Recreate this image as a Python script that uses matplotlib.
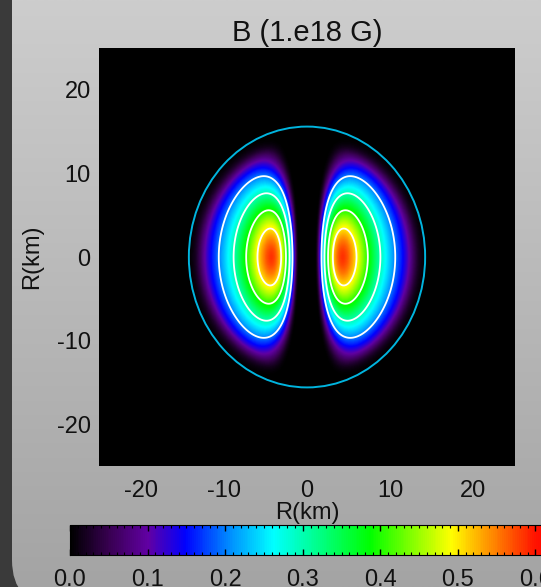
import numpy as np
import matplotlib
matplotlib.use('Agg')
import matplotlib.pyplot as plt
from matplotlib.colors import LinearSegmentedColormap
from matplotlib.patches import FancyBboxPatch, Ellipse
from matplotlib.ticker import MultipleLocator

plt.rcParams['font.family'] = ['Liberation Sans', 'DejaVu Sans']
plt.rcParams['axes.unicode_minus'] = False

# values
title = 'B (1.e18 G)'
ticks_r = [-20, -10, 0, 10, 20]
cbar_ticks = [0.0, 0.1, 0.2, 0.3, 0.4, 0.5, 0.6]
contour_levels = [0.2, 0.3, 0.4, 0.5]
b_peak = 0.585         # peak field, 1e18 G
lobe_r = 4.3           # lobe centre, km (cylindrical radius)
lobe_w = 0.91          # width in ln(radius)
lobe_h = 9.5           # vertical width, km
lobe_p = 1.8           # profile exponent
lobe_tail = 1.5        # beyond this the glow falls off fast
lobe_tilt = 0.25       # vertical width grows outward
field_rx, field_ry = 13.0, 14.0  # field dies off here, km
star_rx, star_ry = 14.2, 15.6    # surface curve, km
vmin, vmax = 0.0, 0.62

# colour table (value, colour)
cmap_vals = [0.0, 0.05, 0.10, 0.148, 0.205, 0.262, 0.387, 0.492, 0.532, 0.567, 0.60, 0.62]
cmap_cols = [(0, 0, 0), (0.22, 0, 0.32), (0.38, 0, 0.64), (0, 0, 1),
             (0, 0.55, 1), (0, 1, 1), (0, 1, 0), (1, 1, 0), (1, 0.65, 0),
             (1, 0.35, 0), (1, 0.08, 0), (1, 0, 0)]
rainbow = LinearSegmentedColormap.from_list(
    'idl', [(v / vmax, c) for v, c in zip(cmap_vals, cmap_cols)])

# field on the grid
x = np.linspace(-25, 25, 501)
X, Y = np.meshgrid(x, x)
U = np.abs(X) + 1e-6
sy = lobe_h * (U / lobe_r) ** lobe_tilt
rho = np.sqrt((np.log(U / lobe_r) / lobe_w) ** 2 + (Y / sy) ** 2)
L = rho ** lobe_p * (1 + (rho / lobe_tail) ** 6)
edge = np.sqrt((U / field_rx) ** 2 + (Y / field_ry) ** 2)
B = b_peak * np.exp(-L) / (1 + np.exp((edge - 1) / 0.035))

W, H = 541, 587
fig = plt.figure(figsize=(W / 100, H / 100), dpi=100, facecolor='#3a3a3a')

# slide-like grey panel
bg = fig.add_axes([0, 0, 1, 1])
bg.axis('off')
bg.set_xlim(0, W)
bg.set_ylim(0, H)
grad = np.linspace(0, 1, 256)[:, None]
bgim = bg.imshow(grad, extent=[0, W, 0, H], origin='lower', aspect='auto',
                 cmap=LinearSegmentedColormap.from_list('bgc', ['#a4a4a4', '#cdcdcd']))
panel = FancyBboxPatch((12, -18), 800, 800, boxstyle='round,pad=0,rounding_size=45',
                       transform=bg.transData)
bgim.set_clip_path(panel)

ax = fig.add_axes([99 / W, 1 - 466 / H, 416 / W, 418 / H])
ax.set_facecolor('black')
im = ax.imshow(B, extent=[-25, 25, -25, 25], origin='lower', cmap=rainbow,
               vmin=vmin, vmax=vmax, interpolation='bilinear', aspect='auto')
ax.contour(X, Y, B, levels=contour_levels, colors='white', linewidths=1.3)
ax.add_patch(Ellipse((0, 0), 2 * star_rx, 2 * star_ry, fill=False,
                     edgecolor='#00b4de', lw=1.4))
ax.set_xlim(-25, 25)
ax.set_ylim(-25, 25)
ax.set_xticks(ticks_r)
ax.set_yticks(ticks_r)
ax.tick_params(direction='in', length=0, labelsize=17, colors='#111111')
ax.tick_params(axis='x', pad=10)
ax.tick_params(axis='y', pad=6)
for s in ax.spines.values():
    s.set_visible(False)
ax.set_title(title, fontsize=21, pad=5, color='#111111')
ax.set_xlabel('R(km)', fontsize=17, color='#111111')
ax.set_ylabel('R(km)', fontsize=17, color='#111111')
ax.xaxis.set_label_coords(0.5, -0.086)
ax.yaxis.set_label_coords(-0.135, 0.5)

cax = fig.add_axes([70 / W, 1 - 555 / H, 481 / W, 30 / H])
cb = fig.colorbar(im, cax=cax, orientation='horizontal')
cb.outline.set_edgecolor('black')
cb.set_ticks(cbar_ticks)
cb.set_ticklabels(['%.1f' % t for t in cbar_ticks])
cax.xaxis.set_minor_locator(MultipleLocator(0.01))
cax.tick_params(which='both', direction='in', top=True, bottom=True, colors='black',
                labelcolor='#111111', labelsize=17, pad=10)
cax.tick_params(which='major', length=4, width=1)
cax.tick_params(which='minor', length=2, width=0.8)

fig.savefig('out.png', dpi=100, facecolor=fig.get_facecolor())
